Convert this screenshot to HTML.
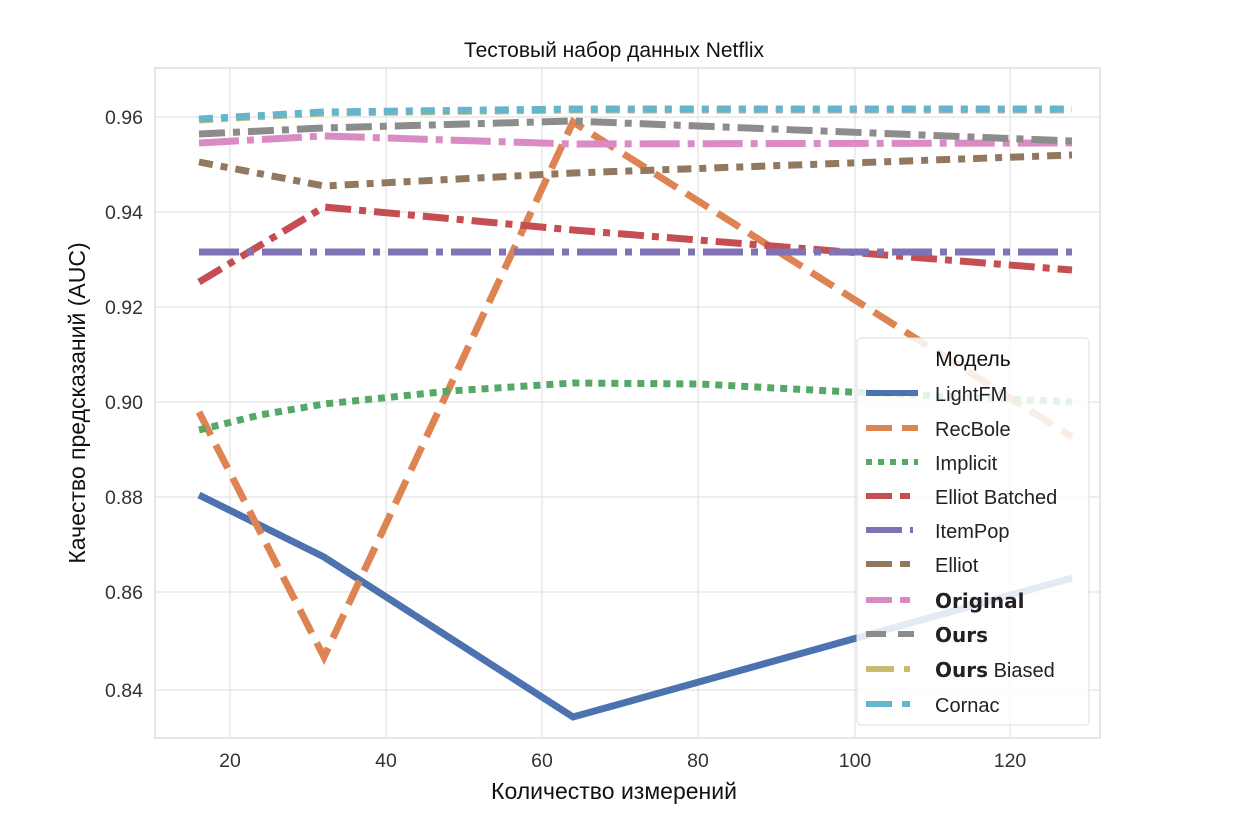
<!DOCTYPE html><html><head><meta charset="utf-8"><style>body{margin:0;background:#fff}svg{display:block;font-family:"Liberation Sans",sans-serif}</style></head><body>
<svg width="1256" height="830" xmlns="http://www.w3.org/2000/svg">
<rect x="155" y="68" width="945" height="670" fill="#fff" stroke="#ddd" stroke-width="1.5"/>
<g stroke="#e3e3e3" stroke-width="1.3">
<line x1="230" y1="68" x2="230" y2="738"/><line x1="386" y1="68" x2="386" y2="738"/><line x1="542" y1="68" x2="542" y2="738"/><line x1="698" y1="68" x2="698" y2="738"/><line x1="855" y1="68" x2="855" y2="738"/><line x1="1010" y1="68" x2="1010" y2="738"/>
<line x1="155" y1="117" x2="1100" y2="117"/><line x1="155" y1="212" x2="1100" y2="212"/><line x1="155" y1="307" x2="1100" y2="307"/><line x1="155" y1="402" x2="1100" y2="402"/><line x1="155" y1="497" x2="1100" y2="497"/><line x1="155" y1="592" x2="1100" y2="592"/><line x1="155" y1="690" x2="1100" y2="690"/>
</g>
<g font-size="19.5" fill="#333" text-anchor="end">
<text x="143" y="124">0.96</text><text x="143" y="219">0.94</text><text x="143" y="314">0.92</text><text x="143" y="409">0.90</text><text x="143" y="504">0.88</text><text x="143" y="599">0.86</text><text x="143" y="697">0.84</text>
</g>
<g font-size="19.5" fill="#333" text-anchor="middle">
<text x="230" y="767">20</text><text x="386" y="767">40</text><text x="542" y="767">60</text><text x="698" y="767">80</text><text x="855" y="767">100</text><text x="1010" y="767">120</text>
</g>
<text x="614" y="57" font-size="21" text-anchor="middle" fill="#111">Тестовый набор данных Netflix</text>
<text x="614" y="799" font-size="23" text-anchor="middle" fill="#111">Количество измерений</text>
<text transform="translate(85,403) rotate(-90)" font-size="23" text-anchor="middle" fill="#111">Качество предсказаний (AUC)</text>
<g fill="none" stroke-width="7">
<polyline points="199,495 324,557 573,717 1072,578" stroke="#4c72b0"/>
<polyline points="199,412 324,657 573,122 1072,437" stroke="#dd8452" stroke-dasharray="26,11"/>
<polyline points="199,430 260,415 324,404 450,391 573,383 700,384 850,392 1072,402" stroke="#55a868" stroke-dasharray="7,6"/>
<polyline points="199,282 324,207 573,230 1072,270" stroke="#c44e52" stroke-dasharray="26,8,7,8"/>
<polyline points="199,252 1072,252" stroke="#8172b3" stroke-dasharray="40,8,7,8"/>
<polyline points="199,162 324,186 573,173 1072,155" stroke="#937860" stroke-dasharray="14,8,7,8"/>
<polyline points="199,143 324,136 573,144 1072,143" stroke="#da8bc3" stroke-dasharray="40,8,7,8"/>
<polyline points="199,134 324,128 573,121 1072,141" stroke="#8c8c8c" stroke-dasharray="26,8,7,8"/>
<polyline points="199,120 324,113 573,110 1072,110" stroke="#ccb974" stroke-dasharray="14,8,7,8"/>
<polyline points="199,119 324,112 573,109 1072,109" stroke="#64b5cd" stroke-dasharray="14,8,7,8"/>
</g>
<rect x="857" y="338" width="232" height="387" rx="4" fill="#fff" fill-opacity="0.85" stroke="#ddd"/>
<text x="973" y="366" font-size="21" text-anchor="middle" fill="#111">Модель</text>
<g stroke-width="6" fill="none">
<line x1="866" y1="393" x2="918" y2="393" stroke="#4c72b0"/>
<line x1="866" y1="428" x2="918" y2="428" stroke="#dd8452" stroke-dasharray="26,10"/>
<line x1="866" y1="462" x2="918" y2="462" stroke="#55a868" stroke-dasharray="6,6"/>
<line x1="866" y1="496" x2="918" y2="496" stroke="#c44e52" stroke-dasharray="26,8,10,8"/>
<line x1="866" y1="530" x2="918" y2="530" stroke="#8172b3" stroke-dasharray="36,8,3,8"/>
<line x1="866" y1="564" x2="918" y2="564" stroke="#937860" stroke-dasharray="26,8,10,8"/>
<line x1="866" y1="600" x2="918" y2="600" stroke="#da8bc3" stroke-dasharray="26,8,10,8"/>
<line x1="866" y1="634" x2="918" y2="634" stroke="#8c8c8c" stroke-dasharray="20,12,16,8"/>
<line x1="866" y1="669" x2="918" y2="669" stroke="#ccb974" stroke-dasharray="28,10,6,8"/>
<line x1="866" y1="704" x2="918" y2="704" stroke="#64b5cd" stroke-dasharray="26,10,8,8"/>
</g>
<g font-size="20" fill="#222">
<text x="935" y="401">LightFM</text><text x="935" y="436">RecBole</text><text x="935" y="470">Implicit</text><text x="935" y="504">Elliot Batched</text><text x="935" y="538">ItemPop</text><text x="935" y="572">Elliot</text>
<text x="935" y="608" font-family="DejaVu Sans" font-weight="bold">Original</text>
<text x="935" y="642" font-family="DejaVu Sans" font-weight="bold">Ours</text>
<text x="935" y="677"><tspan font-family="DejaVu Sans" font-weight="bold">Ours</tspan> Biased</text>
<text x="935" y="712">Cornac</text>
</g>
</svg></body></html>
